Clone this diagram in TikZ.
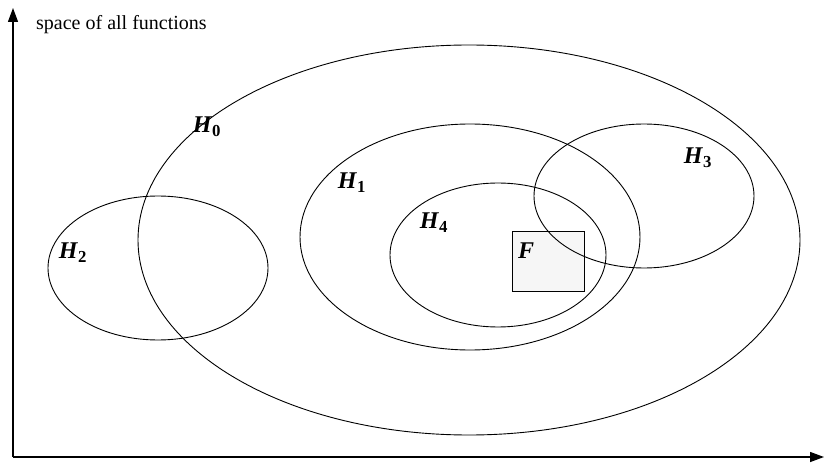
\documentclass[tikz,border=0pt]{standalone}
\usepackage{fontspec}
\setmainfont{Liberation Serif}
\usetikzlibrary{arrows.meta}

\newcommand{\hyp}[1]{\textbf{\textit{H}}\textsubscript{\textbf{#1}}}

\begin{document}
\begin{tikzpicture}[x=1pt, y=-1pt,
    set/.style={draw, line width=0.9pt},
    lbl/.style={inner sep=0pt, font=\fontsize{24}{28}\selectfont},
    axis/.style={line width=1.3pt, -{Triangle[length=14pt, width=10pt]}}
  ]
  \useasboundingbox (0,0) rectangle (825,465);
  % axes
  \coordinate (o) at (13,457);
  \coordinate (ytop) at (13,8);
  \coordinate (xend) at (824,457);
  \draw[axis] (o) -- (ytop);
  \draw[axis] (o) -- (xend);
  \node[inner sep=0pt, anchor=west, font=\fontsize{20}{24}\selectfont] (space) at (36,25) {space of all functions};
  % target (under the sets)
  \node[draw, line width=0.9pt, fill=gray!7, minimum width=72pt, minimum height=60pt, inner sep=0pt] (box) at (548,261.5) {};
  % hypothesis sets
  \draw[set] (469,240) ellipse [x radius=331, y radius=195];
  \draw[set] (158,268) ellipse [x radius=110, y radius=72];
  \draw[set] (470,237) ellipse [x radius=170, y radius=113];
  \draw[set] (498,255) ellipse [x radius=108, y radius=72];
  \draw[set] (644,196) ellipse [x radius=110, y radius=72];
  % labels
  \node[lbl] (f) at (526,251) {\textbf{\textit{F}}};
  \node[lbl] (h0) at (207,127) {\hyp{0}};
  \node[lbl] (h1) at (352,183) {\hyp{1}};
  \node[lbl] (h2) at (73,253) {\hyp{2}};
  \node[lbl] (h3) at (698,158) {\hyp{3}};
  \node[lbl] (h4) at (434,223) {\hyp{4}};
\end{tikzpicture}
\end{document}
